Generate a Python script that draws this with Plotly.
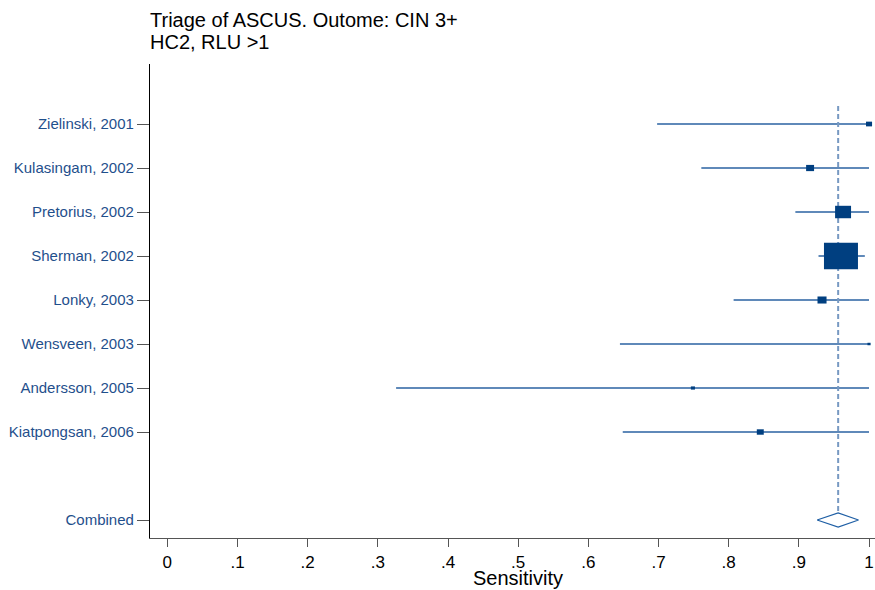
import plotly.graph_objects as go
import numpy as np

studies = ["Zielinski, 2001", "Kulasingam, 2002", "Pretorius, 2002", "Sherman, 2002",
           "Lonky, 2003", "Wensveen, 2003", "Andersson, 2005", "Kiatpongsan, 2006"]
sens = [1.0, 0.916, 0.963, 0.960, 0.933, 1.0, 0.749, 0.845]
ci_lo = [0.698, 0.761, 0.895, 0.928, 0.807, 0.645, 0.326, 0.649]
ci_hi = [1.0, 1.0, 1.0, 0.994, 1.0, 1.0, 1.0, 1.0]
weights = [2.2, 3.8, 15.3, 69.4, 4.9, 0.6, 1.0, 2.9]

combined_label = "Combined"
combined_est = 0.956
combined_lo = 0.926
combined_hi = 0.985

tick_vals = [0, 0.1, 0.2, 0.3, 0.4, 0.5, 0.6, 0.7, 0.8, 0.9, 1.0]
tick_text = ["0", ".1", ".2", ".3", ".4", ".5", ".6", ".7", ".8", ".9", "1"]

title_lines = ["Triage of ASCUS. Outome: CIN 3+", "HC2, RLU >1"]
x_title = "Sensitivity"

W, H = 875, 590
ml, mr, mt, mb = 150, 0, 64, 52
xr = [-0.0247, 1.0085]
n = len(studies)
ypos = list(range(1, n + 1))
ycomb = n + 2
yr = [ycomb + 0.409, -0.364]

plot_h = H - mt - mb
px_per_x = (W - ml - mr) / (xr[1] - xr[0])
px_per_y = plot_h / (yr[0] - yr[1])

def paper_y(px):
    return 1 - (px - mt) / plot_h

line_col = "#2a62a2"
box_col = "#003f80"
lab_col = "#1f4f8c"

fig = go.Figure()

# CI lines
xs, ys = [], []
for lo, hi, y in zip(ci_lo, ci_hi, ypos):
    xs += [lo, hi, None]
    ys += [y, y, None]
fig.add_trace(go.Scatter(x=xs, y=ys, mode="lines",
                         line=dict(color=line_col, width=1.3),
                         hoverinfo="skip", showlegend=False, cliponaxis=False))

# reference dashed line at combined estimate
fig.add_trace(go.Scatter(x=[combined_est, combined_est], y=[0.59, ycomb - 0.16],
                         mode="lines", line=dict(color="#7799c2", width=2, dash="5px,3px"),
                         hoverinfo="skip", showlegend=False))

# weighted boxes
wmax = max(weights)
for s, w, y in zip(sens, weights, ypos):
    wpx = max(34 * np.sqrt(w / wmax), 2.5)
    hpx = 0.78 * wpx
    hx = wpx / 2 / px_per_x
    hy = hpx / 2 / px_per_y
    fig.add_shape(type="rect", xref="x", yref="y",
                  x0=s - hx, x1=s + hx, y0=y - hy, y1=y + hy,
                  fillcolor=box_col, line=dict(width=0), layer="above")

# combined diamond
dh = 7 / px_per_y
fig.add_trace(go.Scatter(
    x=[combined_lo, combined_est, combined_hi, combined_est, combined_lo],
    y=[ycomb, ycomb - dh, ycomb, ycomb + dh, ycomb],
    mode="lines", fill="toself", fillcolor="white",
    line=dict(color="#1f5fa5", width=1.2),
    hoverinfo="skip", showlegend=False))

# title lines
for txt, ypx in zip(title_lines, [20, 42]):
    fig.add_annotation(text=txt, xref="paper", yref="paper", x=0, y=paper_y(ypx),
                       xanchor="left", yanchor="middle", align="left", showarrow=False,
                       xshift=-2, font=dict(size=20, color="black"))

# x-axis title
fig.add_annotation(text=x_title, xref="x", yref="paper", x=0.5, y=paper_y(578),
                   xanchor="center", yanchor="middle", showarrow=False,
                   font=dict(size=20, color="black"))

fig.update_layout(
    width=W, height=H,
    margin=dict(l=ml, r=mr, t=mt, b=mb),
    plot_bgcolor="white", paper_bgcolor="white",
    font=dict(family="Liberation Sans, Arial, sans-serif", color="black"),
    showlegend=False,
)

fig.update_xaxes(range=xr, tickvals=tick_vals, ticktext=tick_text,
                 showgrid=False, zeroline=False,
                 showline=True, linecolor="#555555", linewidth=1.3,
                 ticks="outside", ticklen=8, tickcolor="#555555", tickwidth=1.3,
                 tickfont=dict(size=17, color="black"))

fig.update_yaxes(range=yr, tickvals=ypos + [ycomb], ticktext=studies + [combined_label],
                 showgrid=False, zeroline=False,
                 showline=True, linecolor="black", linewidth=1.3,
                 ticks="outside", ticklen=12, tickcolor="#555555", tickwidth=1.3,
                 tickfont=dict(size=15, color=lab_col))

fig.write_html("out.html", config={"displayModeBar": False},
               post_script="document.body.style.margin='0';document.body.style.overflow='hidden';")
